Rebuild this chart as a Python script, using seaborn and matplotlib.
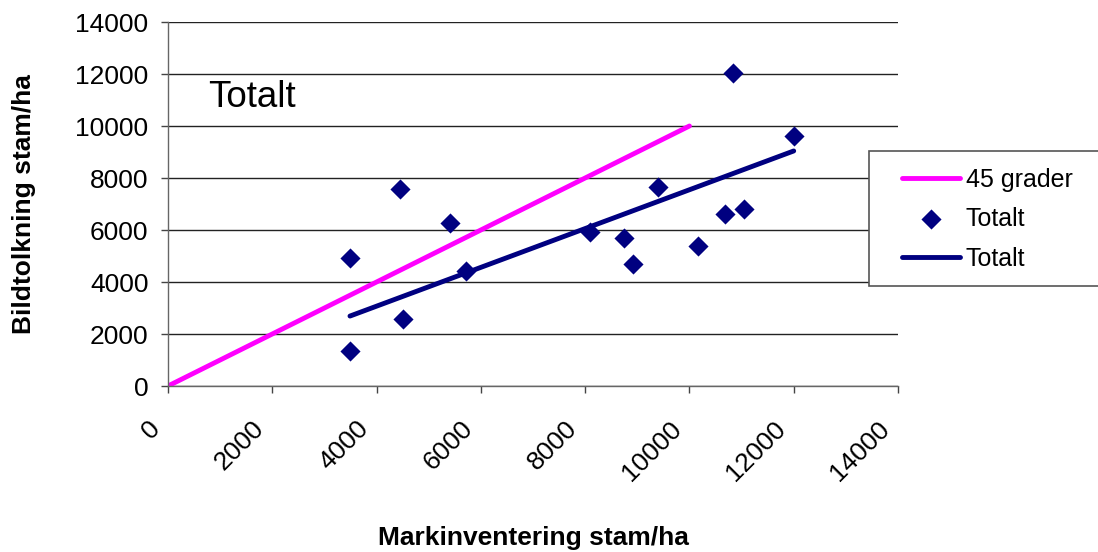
import numpy as np
import pandas as pd
import matplotlib
matplotlib.use("Agg")
import matplotlib.pyplot as plt
import matplotlib.transforms as mtransforms
from matplotlib.patches import Rectangle
import seaborn as sns

# Field inventory vs. image interpretation, stems per hectare
mark = [3490, 3490, 4450, 4510, 5410, 5720, 8090, 8750, 8920, 9400, 10160, 10680, 10840, 11050, 12000]
bild = [4920, 1350, 7580, 2580, 6270, 4420, 5920, 5690, 4690, 7650, 5380, 6620, 12040, 6810, 9620]

# 1:1 reference line
ref_x = [0, 10000]
ref_y = [0, 10000]

# trend line end points
trend_x = [3490, 12000]
trend_y = [2690, 9040]

ticks = [0, 2000, 4000, 6000, 8000, 10000, 12000, 14000]

sns.set_theme(style="white")
plt.rcParams["font.family"] = ["Liberation Sans", "DejaVu Sans"]
plt.rcParams["text.color"] = "black"
plt.rcParams["axes.labelcolor"] = "black"
plt.rcParams["xtick.color"] = "black"
plt.rcParams["ytick.color"] = "black"

W, H = 1098, 552
fig = plt.figure(figsize=(W / 100, H / 100), dpi=100)
ax = fig.add_axes([168 / W, 1 - 386 / H, 730 / W, 364 / H])

df = pd.DataFrame({"mark": mark, "bild": bild})
trend = pd.DataFrame({"x": trend_x, "y": trend_y})
ref = pd.DataFrame({"x": ref_x, "y": ref_y})

NAVY = "#000080"
MAGENTA = "#FF00FF"

sns.lineplot(data=ref, x="x", y="y", ax=ax, color=MAGENTA, lw=3.5,
             solid_capstyle="round", label="45 grader")
sns.scatterplot(data=df, x="mark", y="bild", ax=ax, marker="D", s=105,
                color=NAVY, edgecolor=NAVY, linewidth=0, label="Totalt",
                zorder=3)
sns.lineplot(data=trend, x="x", y="y", ax=ax, color=NAVY, lw=3.5,
             solid_capstyle="round", label="Totalt")

ax.set_xlim(0, 14000)
ax.set_ylim(0, 14000)
ax.set_xticks(ticks)
ax.set_yticks(ticks)
ax.set_yticklabels([str(t) for t in ticks], fontsize=19)
ax.set_xticklabels([str(t) for t in ticks], fontsize=19, rotation=45,
                   ha="right", va="center", rotation_mode="anchor")
ax.tick_params(axis="both", direction="out", length=5, width=1,
               color="#444444", bottom=True, left=True)
ax.tick_params(axis="y", pad=9)
ax.tick_params(axis="x", pad=23)
shift = mtransforms.ScaledTranslation(-0.12, 0, fig.dpi_scale_trans)
for lab in ax.get_xticklabels():
    lab.set_transform(lab.get_transform() + shift)

ax.yaxis.grid(True, color="#222222", lw=1)
ax.xaxis.grid(False)
for s in ["top", "right"]:
    ax.spines[s].set_visible(False)
for s in ["left", "bottom"]:
    ax.spines[s].set_color("#666666")
    ax.spines[s].set_linewidth(1)

ax.set_xlabel("Markinventering stam/ha", fontsize=19, fontweight="bold", va="center")
ax.xaxis.set_label_coords(0.5, -(538 - 386) / 364)
ax.set_ylabel("Bildtolkning stam/ha", fontsize=19, fontweight="bold", va="center")
ax.yaxis.set_label_coords(-(168 - 24) / 730, 0.5)

ax.text(40 / 730, (386 - 107) / 364, "Totalt", transform=ax.transAxes,
        fontsize=26.5, va="baseline", ha="left")

# legend box sits partly over the plot's right edge
ax.add_patch(Rectangle((869 / W, 1 - 286 / H), 240 / W, 135 / H,
                       transform=fig.transFigure, facecolor="white",
                       edgecolor="#555555", lw=1.2, zorder=4, clip_on=False))
leg = ax.legend(loc="center left", bbox_to_anchor=((902 - 168) / 730, (386 - 219) / 364),
                fontsize=18, frameon=False, borderpad=0, labelspacing=0.62,
                handlelength=2.3, handletextpad=0.25, borderaxespad=0)
leg.set_zorder(6)
for t in leg.get_texts():
    t.set_color("black")

fig.savefig("out.png", dpi=100)
